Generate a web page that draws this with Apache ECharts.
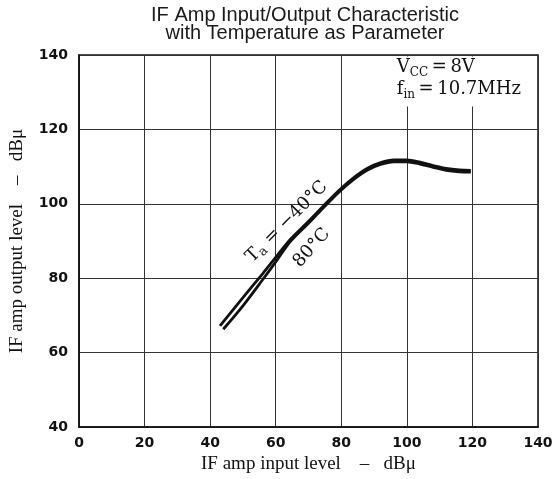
<!DOCTYPE html>
<html>
<head>
<meta charset="utf-8">
<script src="https://cdn.jsdelivr.net/npm/echarts@6/dist/echarts.min.js"></script>
<style>
html,body{margin:0;padding:0;background:#fff;}
#c{width:557px;height:479px;}
</style>
</head>
<body>
<div id="c"></div>
<script>
// ---- data ----
const titleLines = ['IF Amp Input/Output Characteristic', 'with Temperature as Parameter'];
const xAxisName = 'IF amp input level    \u2013   dB\u03bc';
const yAxisName = 'IF amp output level    \u2013   dB\u03bc';
const xRange = [0, 140, 20];
const yRange = [40, 140, 20];

// Ta = -40 C curve
const inM40  = [43.0, 50.0, 56.0, 60.0, 64.5, 70.0, 74.4, 79.5, 84.0, 88.0, 92.0, 96.0, 100.0, 104.0, 108.0, 112.0, 116.0, 119.5];
const outM40 = [67.2, 74.8, 81.2, 85.6, 90.5, 95.3, 99.3, 103.8, 107.2, 109.6, 111.1, 111.8, 111.8, 111.2, 110.3, 109.5, 109.1, 109.0];
// Ta = 80 C curve
const in80   = [44.0, 50.0, 56.0, 60.0, 64.5, 70.0, 74.4, 79.5, 84.0, 88.0, 92.0, 96.0, 100.0, 104.0, 108.0, 112.0, 116.0, 119.5];
const out80  = [66.3, 72.6, 79.6, 84.4, 89.9, 94.8, 98.8, 103.3, 106.7, 109.1, 110.6, 111.3, 111.3, 110.7, 109.8, 109.0, 108.6, 108.5];

// annotation anchors (data coordinates)
const labelTa   = [63.6, 95.0];
const label80   = [71.2, 88.0];
const labelCond = [96.0, 139.6];

const toPairs = (xs, ys) => xs.map((x, i) => [x, ys[i]]);

const serif = '"DejaVu Serif", serif';
const richBig = {
  m:  { fontFamily: serif, fontSize: 18, color: '#111', verticalAlign: 'top', lineHeight: 22 },
  s:  { fontFamily: serif, fontSize: 12, color: '#111', verticalAlign: 'top', lineHeight: 22, padding: [8, 0, 0, 0] }
};
const richTa = {
  m:  { fontFamily: serif, fontSize: 18, color: '#111', verticalAlign: 'top', lineHeight: 20 },
  s:  { fontFamily: serif, fontSize: 13, color: '#111', verticalAlign: 'top', lineHeight: 20, padding: [7, 0, 0, 0] }
};

const chart = echarts.init(document.getElementById('c'), null, { renderer: 'canvas' });
chart.setOption({
  backgroundColor: '#fff',
  animation: false,
  title: {
    text: titleLines.join('\n'),
    left: 300,
    top: 1,
    textAlign: 'center',
    textStyle: { fontFamily: '"Liberation Sans", Arial, sans-serif', fontSize: 20, lineHeight: 18, fontWeight: 'normal', color: '#1a1a1a' }
  },
  grid: { left: 78, right: 19, top: 55, bottom: 49, show: true, borderColor: '#111', borderWidth: 1.5, backgroundColor: 'transparent' },
  xAxis: {
    type: 'value', min: xRange[0], max: xRange[1], interval: xRange[2],
    name: xAxisName, nameLocation: 'middle', nameGap: 20,
    nameTextStyle: { fontFamily: '"Liberation Serif", "Times New Roman", serif', fontSize: 19, color: '#111' },
    axisLine: { show: true, lineStyle: { color: '#111', width: 1.5 } },
    axisTick: { show: false },
    axisLabel: { margin: 9, fontFamily: '"DejaVu Sans", sans-serif', fontSize: 14, fontWeight: 'bold', color: '#111' },
    splitLine: { show: true, lineStyle: { color: '#333', width: 1 } }
  },
  yAxis: {
    type: 'value', min: yRange[0], max: yRange[1], interval: yRange[2],
    name: yAxisName, nameLocation: 'middle', nameGap: 52, nameRotate: 90,
    nameTextStyle: { fontFamily: '"Liberation Serif", "Times New Roman", serif', fontSize: 19, color: '#111' },
    axisLine: { show: true, lineStyle: { color: '#111', width: 1.5 } },
    axisTick: { show: false },
    axisLabel: { margin: 11, fontFamily: '"DejaVu Sans", sans-serif', fontSize: 14, fontWeight: 'bold', color: '#111' },
    splitLine: { show: true, lineStyle: { color: '#333', width: 1 } }
  },
  series: [
    {
      name: 'Ta=-40C', type: 'line', data: toPairs(inM40, outM40), smooth: 0.3,
      showSymbol: false, symbol: 'none',
      lineStyle: { color: '#111', width: 2.8 },
      markPoint: {
        symbol: 'circle', symbolSize: 0,
        data: [
          { coord: labelTa, label: { show: true, position: 'inside', rotate: 45, align: 'center', verticalAlign: 'middle',
              formatter: '{m|T}{s|a}{m| = \u221240\u00b0C}', rich: richTa } },
          { coord: labelCond, label: { show: true, position: 'inside', align: 'left', verticalAlign: 'top',
              backgroundColor: '#fff', padding: [2, 13, 4, 3],
              formatter: '{m|V}{s|CC}{m|\u2009=\u20098V}\n{m|f}{s|in}{m|\u2009=\u200910.7MHz}', rich: richBig } }
        ]
      }
    },
    {
      name: 'Ta=80C', type: 'line', data: toPairs(in80, out80), smooth: 0.3,
      showSymbol: false, symbol: 'none',
      lineStyle: { color: '#111', width: 2.8 },
      markPoint: {
        symbol: 'circle', symbolSize: 0,
        data: [
          { coord: label80, label: { show: true, position: 'inside', rotate: 48, align: 'center', verticalAlign: 'middle',
              formatter: '{m|80\u00b0C}', rich: richTa } }
        ]
      }
    }
  ]
});
</script>
</body>
</html>
